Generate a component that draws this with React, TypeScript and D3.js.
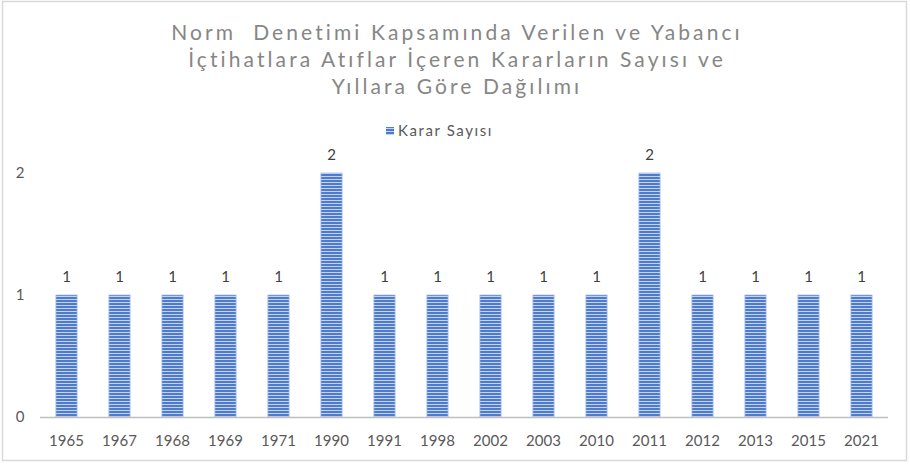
import React from "react";
import * as d3 from "d3";

const years = ["1965","1967","1968","1969","1971","1990","1991","1998","2002","2003","2010","2011","2012","2013","2015","2021"];
const counts = [1,1,1,1,1,2,1,1,1,1,1,2,1,1,1,1];
const yTicks = [0,1,2];
const titleLines = [
  "Norm  Denetimi Kapsamında Verilen ve Yabancı",
  "İçtihatlara Atıflar İçeren Kararların Sayısı ve",
  "Yıllara Göre Dağılımı",
];
const seriesName = "Karar Sayısı";

export default function App() {
  const W = 910, H = 464;
  const x = d3.scaleBand<string>().domain(years).range([40, 888]).paddingInner(0.6).paddingOuter(0.3);
  const y = d3.scaleLinear().domain([0, 2]).range([417, 173]);
  const font = "Lato, 'Open Sans', 'Liberation Sans', sans-serif";
  return (
    <svg width={W} height={H} style={{ position: "absolute", left: 0, top: 0, background: "#fff" }}>
      <defs>
        <pattern id="stripes" width="4" height="3" patternUnits="userSpaceOnUse">
          <rect width="4" height="3" fill="#4f7bcc" />
          <rect y="2" width="4" height="1" fill="#c3d3f0" />
        </pattern>
      </defs>
      <rect x={2.5} y={1.5} width={904} height={459} fill="#fff" stroke="#d9d9d9" strokeWidth={1.5} />
      {titleLines.map((t, i) => (
        <text key={i} x={457} y={40 + i * 27} textAnchor="middle" fontFamily={font} fontSize={21}
          letterSpacing={3.1} fill="#868686" style={{ whiteSpace: "pre" }}>{t}</text>
      ))}
      <rect x={386} y={127} width={8} height={8} fill="url(#stripes)" />
      <text x={398} y={136} fontFamily={font} fontSize={15} letterSpacing={1.6} fill="#595959">{seriesName}</text>
      {yTicks.map(v => (
        <text key={v} x={20} y={y(v) + 5} textAnchor="middle" fontFamily={font} fontSize={15} fill="#595959">{v}</text>
      ))}
      {years.map((yr, i) => (
        <g key={yr}>
          <rect x={x(yr)} y={y(counts[i])} width={x.bandwidth()} height={y(0) - y(counts[i])}
            fill="url(#stripes)" stroke="#a9c0e8" strokeWidth={0.8} />
          <text x={(x(yr) as number) + x.bandwidth() / 2} y={y(counts[i]) - 13} textAnchor="middle"
            fontFamily={font} fontSize={15} fill="#404040">{counts[i]}</text>
          <text x={(x(yr) as number) + x.bandwidth() / 2} y={446} textAnchor="middle"
            fontFamily={font} fontSize={15} fill="#595959">{yr}</text>
        </g>
      ))}
      <line x1={40} x2={888} y1={417.5} y2={417.5} stroke="#bfbfbf" strokeWidth={1.5} />
    </svg>
  );
}
